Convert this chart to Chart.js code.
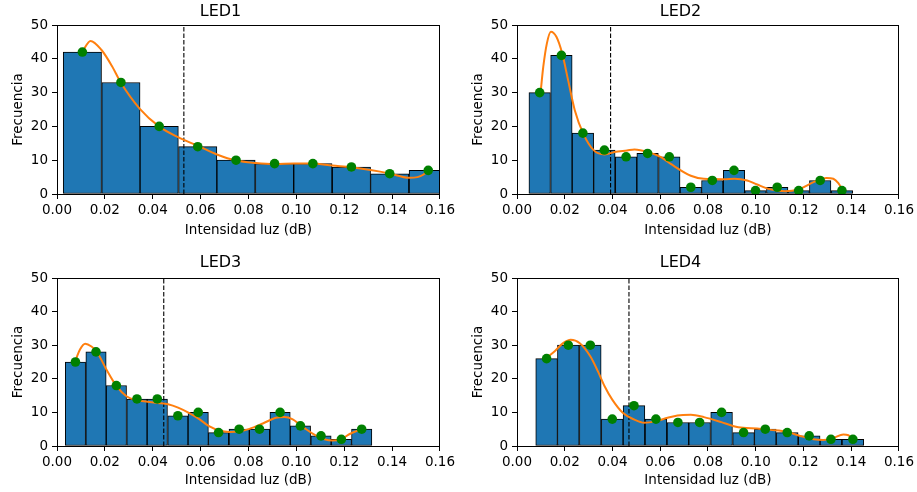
<!DOCTYPE html>
<html><head><meta charset="utf-8">
<script src="https://cdn.jsdelivr.net/npm/chart.js@4"></script>
<style>
html,body{margin:0;padding:0;background:#fff;width:917px;height:492px;overflow:hidden}
canvas{position:absolute}
</style></head><body>
<canvas id="c1" width="458" height="246" style="left:0;top:0"></canvas>
<canvas id="c2" width="457" height="246" style="left:460px;top:0"></canvas>
<canvas id="c3" width="458" height="246" style="left:0;top:246px"></canvas>
<canvas id="c4" width="457" height="246" style="left:460px;top:246px"></canvas>
<script>
// ---- data ----
const titles = ['LED1', 'LED2', 'LED3', 'LED4'];
const xAxisTitle = 'Intensidad luz (dB)';
const yAxisTitle = 'Frecuencia';
const xTickValues = [0, 0.02, 0.04, 0.06, 0.08, 0.10, 0.12, 0.14, 0.16];
const xTickLabels = ['0.00', '0.02', '0.04', '0.06', '0.08', '0.10', '0.12', '0.14', '0.16'];
const yTickValues = [0, 10, 20, 30, 40, 50];
const yTickLabels = ['0', '10', '20', '30', '40', '50'];

const centers1 = [0.0106, 0.0267, 0.0427, 0.0588, 0.0748, 0.0909, 0.1069, 0.1230, 0.1390, 0.1551];
const counts1 = [42, 33, 20, 14, 10, 9, 9, 8, 6, 7];
const mean1 = 0.0530;
const curveX1 = [0.0106, 0.0140, 0.0186, 0.0230, 0.0267, 0.0346, 0.0426, 0.0506, 0.0590, 0.0668, 0.0749, 0.0830, 0.0910, 0.0990, 0.1068, 0.1150, 0.1230, 0.1310, 0.1388, 0.1470, 0.1506, 0.1530, 0.1551];
const curveY1 = [42.1, 45.3, 42.6, 37.8, 32.9, 25.2, 20.0, 16.8, 14.2, 11.7, 9.9, 9.2, 8.9, 9.0, 9.0, 8.4, 7.9, 7.1, 6.1, 4.8, 5.0, 5.7, 6.9];

const centers2 = [0.0095, 0.0186, 0.0276, 0.0366, 0.0457, 0.0547, 0.0638, 0.0728, 0.0818, 0.0909, 0.0999, 0.1090, 0.1180, 0.1270, 0.1361];
const counts2 = [30, 41, 18, 13, 11, 12, 11, 2, 4, 7, 1, 2, 1, 4, 1];
const mean2 = 0.0392;
const curveX2 = [0.0099, 0.0110, 0.0125, 0.0142, 0.0165, 0.0190, 0.0214, 0.0242, 0.0278, 0.0322, 0.0367, 0.0408, 0.0461, 0.0492, 0.0550, 0.0603, 0.0644, 0.0728, 0.0783, 0.0867, 0.0911, 0.0964, 0.1006, 0.1061, 0.1124, 0.1183, 0.1242, 0.1297, 0.1325, 0.1346, 0.1363];
const curveY2 = [30.2, 37.6, 44.5, 48.0, 46.5, 41.4, 33.7, 24.8, 17.8, 12.9, 11.7, 12.4, 12.9, 13.2, 12.4, 10.9, 8.9, 5.4, 4.5, 4.4, 4.5, 4.0, 2.8, 1.4, 0.8, 1.5, 3.5, 4.75, 4.5, 3.2, 1.2];

const centers3 = [0.0077, 0.0163, 0.0248, 0.0334, 0.0419, 0.0505, 0.0590, 0.0675, 0.0761, 0.0846, 0.0932, 0.1017, 0.1103, 0.1188, 0.1273];
const counts3 = [25, 28, 18, 14, 14, 9, 10, 4, 5, 5, 10, 6, 3, 2, 5];
const mean3 = 0.0446;
const curveX3 = [0.0076, 0.0096, 0.0118, 0.0144, 0.0165, 0.0207, 0.0249, 0.0290, 0.0332, 0.0378, 0.0422, 0.0464, 0.0506, 0.0549, 0.0596, 0.0635, 0.0679, 0.0721, 0.0763, 0.0804, 0.0860, 0.0915, 0.0950, 0.0985, 0.1019, 0.1068, 0.1117, 0.1151, 0.1186, 0.1221, 0.1256, 0.1276];
const curveY3 = [25.2, 28.7, 30.4, 29.6, 28.2, 22.7, 17.8, 14.8, 13.6, 13.2, 12.8, 12.4, 11.4, 9.9, 7.9, 5.9, 4.6, 4.2, 4.4, 5.1, 6.7, 8.4, 8.6, 7.9, 6.1, 3.7, 2.0, 1.6, 2.0, 3.5, 4.6, 5.2];

const centers4 = [0.0124, 0.0215, 0.0307, 0.0399, 0.0490, 0.0582, 0.0674, 0.0765, 0.0857, 0.0949, 0.1040, 0.1132, 0.1224, 0.1315, 0.1407];
const counts4 = [26, 30, 30, 8, 12, 8, 7, 7, 10, 4, 5, 4, 3, 2, 2];
const mean4 = 0.0469;
const curveX4 = [0.0121, 0.0158, 0.0193, 0.0225, 0.0263, 0.0307, 0.0339, 0.0367, 0.0399, 0.0443, 0.0490, 0.0533, 0.0583, 0.0631, 0.0672, 0.0728, 0.0783, 0.0856, 0.0908, 0.0947, 0.1006, 0.1061, 0.1131, 0.1186, 0.1242, 0.1283, 0.1325, 0.1367, 0.1388, 0.1406];
const curveY4 = [26.1, 28.2, 30.6, 31.6, 30.6, 26.7, 22.2, 17.8, 13.8, 9.9, 7.9, 6.9, 7.4, 8.4, 9.1, 9.3, 8.6, 7.1, 5.9, 5.4, 5.2, 4.8, 4.2, 3.0, 2.0, 1.8, 2.4, 3.4, 3.2, 2.0];

// ---- drawing ----
const FONT = "'DejaVu Sans', sans-serif";
const frame = {
  id: 'frame',
  afterDatasetsDraw(chart) {
    const a = chart.chartArea, ctx = chart.ctx;
    ctx.save();
    ctx.strokeStyle = '#000';
    ctx.lineWidth = 1;
    ctx.strokeRect(Math.round(a.left) + 0.5, Math.round(a.top) + 0.5, Math.round(a.right - a.left) - 1, Math.round(a.bottom - a.top));
    ctx.restore();
  }
};

function makeChart(id, title, centers, counts, cx, cy, mean, row) {
  const geo = row === 0
    ? {tTop: 2.4, tBot: 3.4, xH: 52, xTitlePad: 7.4}
    : {tTop: 7.2, tBot: 5.6, xH: 46, xTitlePad: 3.6};
  const rightPad = id === 'c1' || id === 'c3' ? 17 : 16;
  new Chart(document.getElementById(id), {
    type: 'bar',
    data: {
      datasets: [
        {
          type: 'scatter', data: centers.map((x, i) => ({x, y: counts[i]})),
          backgroundColor: '#008000', borderColor: '#008000', pointRadius: 4.8, pointBorderWidth: 0,
          showLine: false, order: 1
        },
        {
          type: 'line', data: cx.map((x, i) => ({x, y: cy[i]})),
          borderColor: '#ff7f0e', borderWidth: 2, pointRadius: 0, fill: false,
          cubicInterpolationMode: 'monotone', order: 2
        },
        {
          type: 'line', data: [{x: mean, y: 0}, {x: mean, y: 50}],
          borderColor: '#000', borderWidth: 1.1, borderDash: [4.5, 2], pointRadius: 0, fill: false,
          order: 3
        },
        {
          type: 'bar', data: centers.map((x, i) => ({x, y: counts[i]})),
          backgroundColor: '#1f77b4', borderColor: '#000', borderWidth: 1, borderSkipped: false,
          barPercentage: 1, categoryPercentage: 1, grouped: false, clip: 0, order: 4
        }
      ]
    },
    options: {
      responsive: false, animation: false, devicePixelRatio: 1,
      layout: {padding: {left: 0, right: rightPad, top: 0, bottom: 0}},
      plugins: {
        legend: {display: false}, tooltip: {enabled: false},
        title: {display: true, text: title, color: '#000', font: {family: FONT, size: 16, weight: 'normal', lineHeight: 1.2},
                padding: {top: geo.tTop, bottom: geo.tBot}}
      },
      scales: {
        x: {
          type: 'linear', min: 0, max: 0.16, offset: false,
          afterBuildTicks: s => { s.ticks = xTickValues.map(v => ({value: v})); },
          afterFit: s => { s.height = geo.xH; },
          ticks: {color: '#000', font: {family: FONT, size: 13.5}, padding: 3, maxRotation: 0, autoSkip: false,
                  callback: (v, i) => xTickLabels[i]},
          grid: {display: true, drawOnChartArea: false, drawTicks: true, tickLength: 5, tickColor: '#000', tickWidth: 1, offset: false},
          border: {display: false},
          title: {display: true, text: xAxisTitle, color: '#000', font: {family: FONT, size: 13.5, lineHeight: 1.2},
                  padding: {top: 0, bottom: geo.xTitlePad}}
        },
        y: {
          min: 0, max: 50,
          afterBuildTicks: s => { s.ticks = yTickValues.map(v => ({value: v})); },
          afterFit: s => { s.width = 57; },
          ticks: {color: '#000', font: {family: FONT, size: 13.5}, padding: 4, autoSkip: false,
                  callback: (v, i) => yTickLabels[i]},
          grid: {display: true, drawOnChartArea: false, drawTicks: true, tickLength: 5, tickColor: '#000', tickWidth: 1},
          border: {display: false},
          title: {display: true, text: yAxisTitle, color: '#000', font: {family: FONT, size: 13.5, lineHeight: 1.2},
                  padding: {top: 10.4, bottom: 0}}
        }
      }
    },
    plugins: [frame]
  });
}

makeChart('c1', titles[0], centers1, counts1, curveX1, curveY1, mean1, 0);
makeChart('c2', titles[1], centers2, counts2, curveX2, curveY2, mean2, 0);
makeChart('c3', titles[2], centers3, counts3, curveX3, curveY3, mean3, 1);
makeChart('c4', titles[3], centers4, counts4, curveX4, curveY4, mean4, 1);
</script>
</body></html>
